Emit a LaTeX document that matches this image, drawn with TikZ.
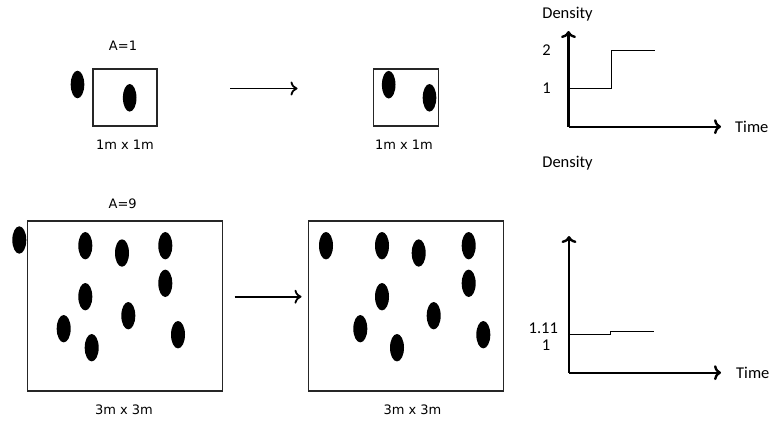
\documentclass[tikz,border=0pt]{standalone}
\usepackage{fontspec}
\setmainfont{DejaVu Sans}
\newfontfamily\calib{Carlito}
\usetikzlibrary{arrows.meta}
\tikzset{blob/.style={fill=black},
         cell/.style={draw=black!85, line width=1.4pt},
         flow/.style={-{To[length=7pt,width=14pt]}, line width=1.8pt},
         axis/.style={-{To[length=7pt,width=15pt]}, line width=2.4pt},
         lbl/.style={font=\fontsize{13}{15}\selectfont, inner sep=0pt},
         num/.style={font=\calib\fontsize{16.5}{18}\selectfont, inner sep=0pt}}

\begin{document}
\begin{tikzpicture}[x=1pt, y=-1pt]
\useasboundingbox (0,0) rectangle (773,423);
% top row: 1m x 1m
\draw[cell] (93,69) rectangle (157,126);
\node[lbl] (aone) at (123,46) {A=1};
\node[lbl] (sizeA) at (125,145) {1m x 1m};
\fill[blob] (77.5,84.5) ellipse (6.8 and 13.8);
\fill[blob] (129.7,97.8) ellipse (6.8 and 13.8);
\coordinate (fromA) at (230,88.5);
\coordinate (toA) at (297.5,88.5);
\draw[flow] (fromA) -- (toA);
\draw[cell] (373.3,69) rectangle (438.3,126);
\node[lbl] (sizeB) at (404,145) {1m x 1m};
\fill[blob] (388.7,84.7) ellipse (6.8 and 13.8);
\fill[blob] (429.5,97.8) ellipse (6.8 and 13.8);
% top graph
\coordinate (oA) at (568.5,126.7);
\coordinate (yA) at (568.5,31);
\coordinate (xA) at (721,126.7);
\draw[axis] (oA) -- (yA);
\draw[axis] (oA) -- (xA);
\node[num] (densA) at (567.5,14) {Density};
\node[num, anchor=west] (timeA) at (735,126.7) {Time};
\node[num] (twoA) at (546.5,50) {2};
\node[num] (oneA) at (546.5,88) {1};
\draw[line width=1.3pt] (568.5,88.7) -- (611.7,88.7) -- (611.7,50.7) -- (655,50.7);
\node[num] (densB) at (567.5,163) {Density};
% bottom row: 3m x 3m
\draw[cell] (27.7,221) rectangle (222.3,391);
\node[lbl] (anine) at (122.7,203.3) {A=9};
\node[lbl] (sizeC) at (124,410) {3m x 3m};
\foreach \px/\py in {19.3/240, 85.3/245.7, 122/253, 165.3/245.7, 85.3/296.7,
                     165.3/283.3, 128.3/315.7, 63.7/328.7, 91.7/347.7, 178/334.7}
  \fill[blob] (\px,\py) ellipse (7 and 13.7);
\coordinate (fromB) at (234.5,296.7);
\coordinate (toB) at (301.5,296.7);
\draw[flow] (fromB) -- (toB);
\draw[cell] (308.3,221) rectangle (503.3,391);
\node[lbl] (sizeD) at (412.5,410) {3m x 3m};
\foreach \px/\py in {326/245.7, 382/245.7, 418.7/253, 468.7/245.7, 382/296.7,
                     468.7/283.3, 433.7/315.7, 360.3/328.7, 397/347.7, 483.3/334.7}
  \fill[blob] (\px,\py) ellipse (7 and 13.7);
% bottom graph
\coordinate (oB) at (569,372.7);
\coordinate (yB) at (569,236);
\coordinate (xB) at (721,372.7);
\draw[axis] (oB) -- (yB);
\draw[axis] (oB) -- (xB);
\node[num, anchor=west] (timeB) at (736,372.7) {Time};
\node[num] (elevB) at (543.3,328.5) {1.11};
\node[num] (oneB) at (546,345) {1};
\draw[line width=1.3pt] (569,334.3) -- (610.7,334.3) -- (610.7,331.3) -- (654,331.3);
\end{tikzpicture}
\end{document}
